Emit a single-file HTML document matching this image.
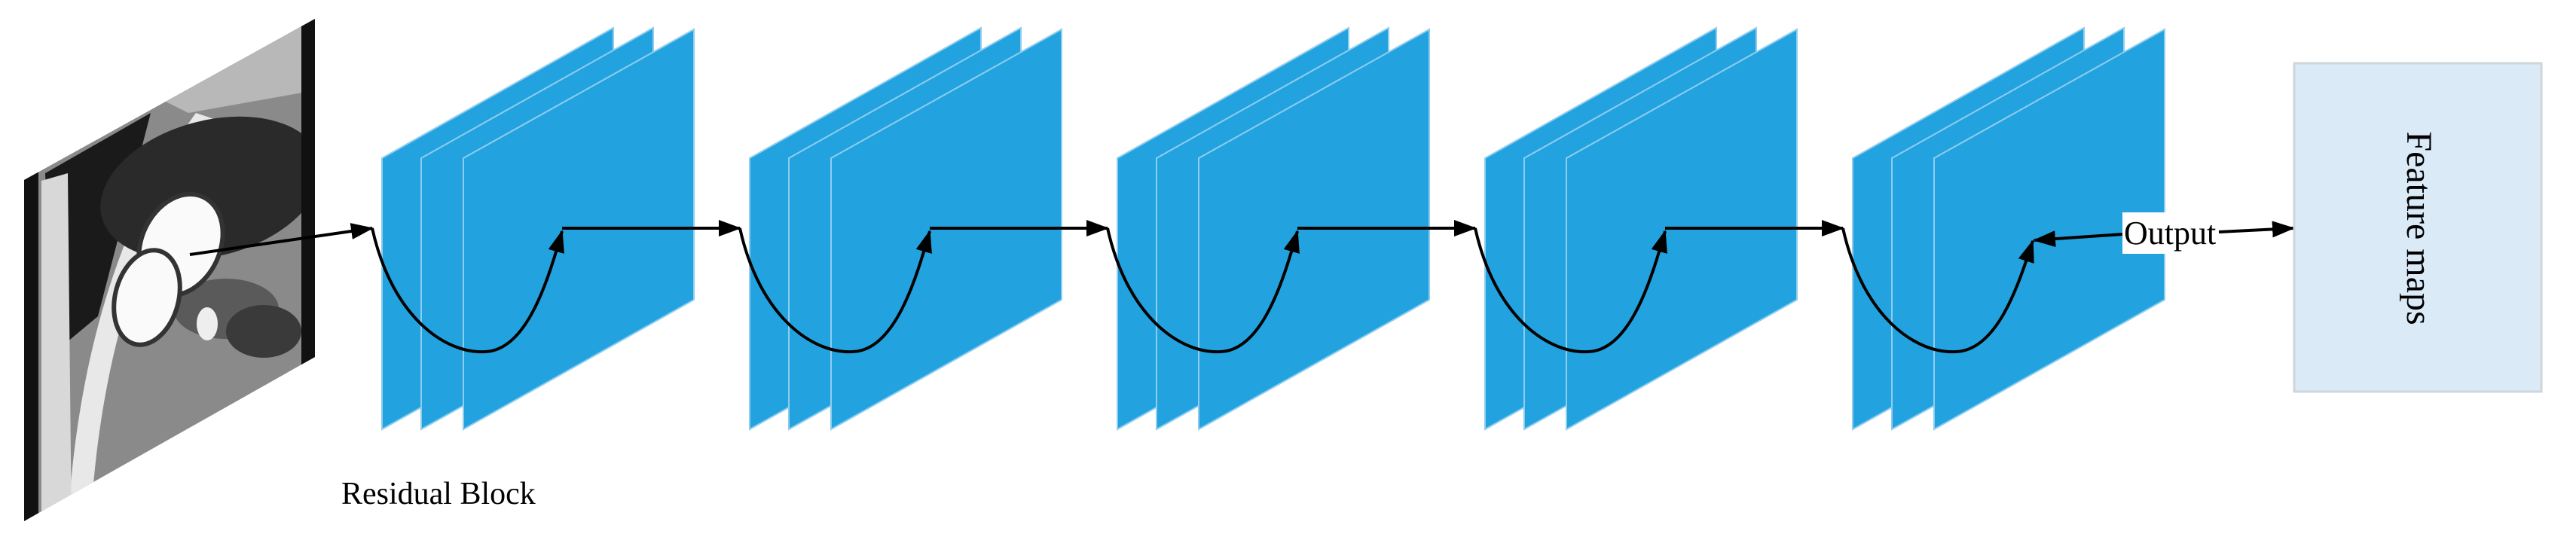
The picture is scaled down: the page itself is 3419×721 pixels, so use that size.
<!DOCTYPE html>
<html><head><meta charset="utf-8"><style>html,body{margin:0;padding:0;background:#fff}svg{display:block}</style></head>
<body>
<svg width="3419" height="721" viewBox="0 0 3419 721" xmlns="http://www.w3.org/2000/svg">
<defs>
<marker id="ah" markerUnits="userSpaceOnUse" markerWidth="34" markerHeight="30" refX="28" refY="11" orient="auto">
<path d="M0,0 L30,11 L0,22 Z" fill="#000"/>
</marker>
<clipPath id="mri"><polygon points="32,239 418,25 418,474 32,692"/></clipPath>
<g id="blk">
<polygon points="507,210 814,37 814,398 507,570" fill="#22a3df" stroke="#8fcdef" stroke-width="2"/>
<polygon points="559,210 867,37 867,398 559,570" fill="#22a3df" stroke="#8fcdef" stroke-width="2"/>
<polygon points="615,210 921,39 921,398 615,570" fill="#22a3df" stroke="#8fcdef" stroke-width="2"/>
</g>
</defs>
<!-- MRI -->
<g clip-path="url(#mri)">
<rect x="0" y="0" width="450" height="721" fill="#8a8a8a"/>
<polygon points="60,230 200,150 130,420 70,470" fill="#1a1a1a"/>
<path d="M90,700 C 100,500 150,300 260,150 L 290,160 C 180,300 130,500 120,700 Z" fill="#e8e8e8"/>
<path d="M55,240 L90,230 L95,700 L55,700 Z" fill="#d8d8d8"/>
<ellipse cx="280" cy="250" rx="150" ry="90" fill="#2a2a2a" transform="rotate(-15 280 250)"/>
<path d="M150,100 L418,20 L418,120 L250,150 Z" fill="#b8b8b8"/>
<ellipse cx="300" cy="410" rx="70" ry="40" fill="#5a5a5a"/>
<ellipse cx="350" cy="440" rx="50" ry="35" fill="#3a3a3a"/>
<ellipse cx="240" cy="325" rx="52" ry="70" fill="#fafafa" transform="rotate(25 240 325)" stroke="#333" stroke-width="6"/>
<ellipse cx="195" cy="395" rx="42" ry="64" fill="#fafafa" transform="rotate(15 195 395)" stroke="#333" stroke-width="6"/>
<ellipse cx="275" cy="430" rx="14" ry="22" fill="#eee"/>
<rect x="32" y="0" width="19" height="721" fill="#111"/>
<rect x="400" y="0" width="18" height="721" fill="#111"/>
</g>
<!-- blocks -->
<use href="#blk"/>
<use href="#blk" x="488"/>
<use href="#blk" x="976"/>
<use href="#blk" x="1464"/>
<use href="#blk" x="1952"/>
<!-- arrows -->
<g fill="none" stroke="#000" stroke-width="4">
<line x1="252" y1="338" x2="494" y2="303" marker-end="url(#ah)"/>
<g id="conn">
<path d="M494,303 C 520,420 590,470 644,467 C 700,465 728,370 746,307" marker-end="url(#ah)"/>
<line x1="746" y1="303" x2="982" y2="303" marker-end="url(#ah)"/>
</g>
<use href="#conn" x="488"/>
<use href="#conn" x="976"/>
<use href="#conn" x="1464"/>
<path d="M2446,303 C 2472,420 2542,470 2596,467 C 2652,465 2680,375 2698,320" marker-end="url(#ah)"/>
<line x1="2817" y1="311" x2="2700" y2="319" marker-end="url(#ah)"/>
<line x1="2945" y1="308" x2="3044" y2="303" marker-end="url(#ah)"/>
</g>
<rect x="2817" y="282" width="58" height="55" fill="#fff"/>
<text x="2819" y="324" font-family="Liberation Serif, serif" font-size="44" fill="#000">Output</text>
<!-- feature maps -->
<rect x="3045" y="84" width="328" height="436" fill="#dbeaf7" stroke="#cfd5da" stroke-width="3"/>
<text transform="translate(3195,303) rotate(90)" text-anchor="middle" font-family="Liberation Serif, serif" font-size="48" fill="#000">Feature maps</text>
<text x="453" y="669" font-family="Liberation Serif, serif" font-size="42" fill="#000">Residual Block</text>
</svg>
</body></html>
